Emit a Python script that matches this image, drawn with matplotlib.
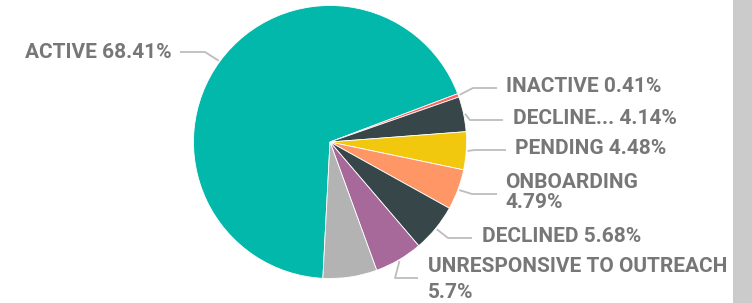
import matplotlib
matplotlib.use("Agg")
import matplotlib.pyplot as plt
import numpy as np
from matplotlib.patches import Rectangle
from matplotlib import font_manager

# ---- data ----
categories = ["ACTIVE", "INACTIVE", "DECLINE...", "PENDING", "ONBOARDING",
              "DECLINED", "UNRESPONSIVE TO OUTREACH", ""]
values = [68.41, 0.41, 4.14, 4.48, 4.79, 5.68, 5.7, 6.39]
value_labels = ["68.41%", "0.41%", "4.14%", "4.48%", "4.79%", "5.68%", "5.7%", ""]
colors = ["#01B8AA", "#FD625E", "#374649", "#F2C80F", "#FE9666",
          "#374649", "#A66999", "#B3B3B3"]

W, H = 752, 303
fig = plt.figure(figsize=(W / 100, H / 100), dpi=100)
ax = fig.add_axes([0, 0, 1, 1])

names = {f.name for f in font_manager.fontManager.ttflist}
fam = ["Liberation Sans Narrow"] if "Liberation Sans Narrow" in names else ["Roboto"]

cx, cy, R = 330, 303 - 142, 136.5
wedges, _ = ax.pie(values, colors=colors, startangle=267.0, counterclock=False,
                   center=(cx, cy), radius=R, frame=False,
                   wedgeprops=dict(edgecolor="white", linewidth=0.6))
ax.set_xlim(0, W)
ax.set_ylim(0, H)
ax.set_aspect("equal")
ax.axis("off")

def Y(y):
    return H - y

# layout for labels: (elbow_x, elbow_y, end_x, text_x, [line y's], ha)
layout = {
    0: (205, 52, 180, 172, [52], "right"),
    1: (473, 88, 497, 506, [87], "left"),
    2: (470, 120, 503, 513, [119], "left"),
    3: (475, 150, 506, 515, [149], "left"),
    4: (472, 194, 497, 505, [182, 203], "left"),
    5: (448, 238, 472, 482, [237], "left"),
    6: (395, 278, 418, 428, [267, 292], "left"),
}
line_col = "#BDBDBD"
text_col = "#777777"
fs = 15

for i, w in enumerate(wedges):
    if i not in layout:
        continue
    ex, ey, endx, tx, tys, ha = layout[i]
    mid = np.deg2rad((w.theta1 + w.theta2) / 2)
    sx = cx + R * 1.01 * np.cos(mid)
    sy = cy + R * 1.01 * np.sin(mid)
    ax.plot([sx, ex, endx], [sy, Y(ey), Y(ey)], color=line_col, lw=1.3,
            solid_capstyle="butt")
    if len(tys) == 1:
        lines = [f"{categories[i]} {value_labels[i]}"]
    else:
        lines = [categories[i], value_labels[i]]
    for t, ty in zip(lines, tys):
        ax.text(tx, Y(ty), t, ha=ha, va="center", fontsize=fs,
                fontweight="bold", color=text_col, family=fam)

# right grey scrollbar
fig.patches.append(Rectangle((733 / W, 0), (W - 733) / W, 1, transform=fig.transFigure,
                             facecolor="#CBCBCB", edgecolor="none"))

fig.savefig("out.png", dpi=100)
